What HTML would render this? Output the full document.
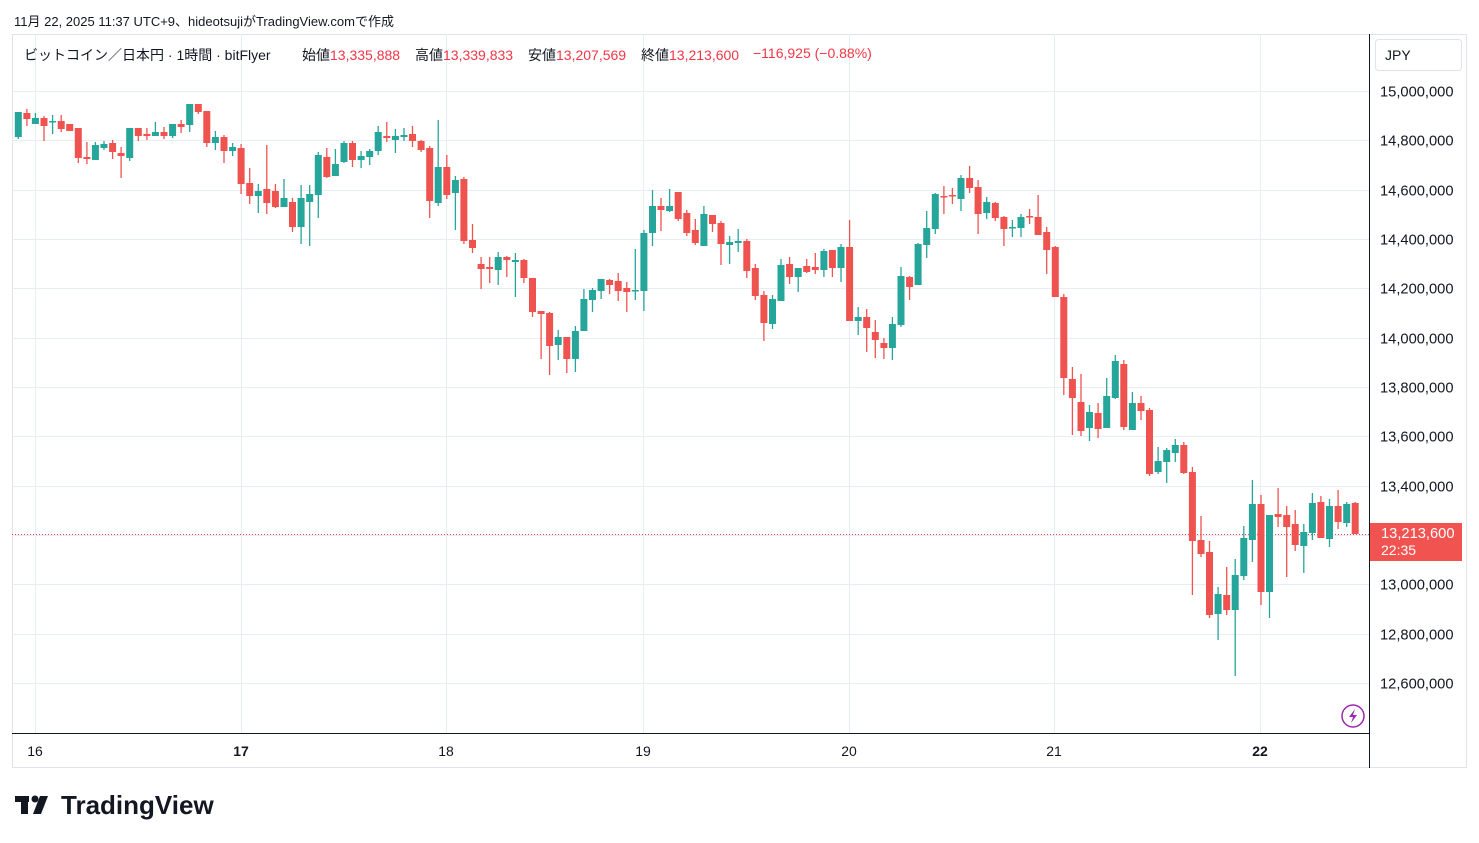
<!DOCTYPE html>
<html><head><meta charset="utf-8"><style>
body{margin:0;width:1479px;height:843px;background:#fff;font-family:"Liberation Sans","Noto Sans CJK JP",sans-serif;overflow:hidden;position:relative}
.t{position:absolute;white-space:nowrap}
.l{position:absolute;white-space:nowrap;top:45px;font-size:14px;color:#131722}
.r{color:#f23645}
</style></head><body>
<div class="t" style="left:14px;top:11px;font-size:13px;color:#131722">11月 22, 2025 11:37 UTC+9、hideotsujiがTradingView.comで作成</div>
<svg id="c" width="1479" height="843" style="position:absolute;left:0;top:0" xmlns="http://www.w3.org/2000/svg">
<rect x="12.5" y="34.5" width="1454" height="733" fill="none" stroke="#e0e3eb"/>
<g id="grid" stroke="#e8edf3" stroke-width="1"></g>
<line x1="1369.5" y1="34" x2="1369.5" y2="768" stroke="#131722"/>
<line x1="12" y1="733.5" x2="1369" y2="733.5" stroke="#131722"/>
<line x1="12" y1="534.5" x2="1369" y2="534.5" stroke="#f23645" stroke-dasharray="1,2"/>
<g id="cs"></g>
<rect x="1375.5" y="39.5" width="86" height="31" rx="3" fill="#fff" stroke="#e0e3eb"/>
<text x="1385" y="60" font-size="14" fill="#131722" font-family="Liberation Sans">JPY</text>
<g id="pl" font-size="14.7" fill="#131722" font-family="Liberation Sans"></g>
<rect x="1370" y="523" width="92" height="38" fill="#f05350"/>
<text x="1381" y="538" font-size="14.7" fill="#fff" font-family="Liberation Sans">13,213,600</text>
<text x="1381" y="555" font-size="14" fill="#fff" font-family="Liberation Sans">22:35</text>
<circle cx="1353" cy="716" r="11" fill="#fff" stroke="#9c27b0" stroke-width="1.5"/>
<path d="M1355 709 L1349 717 L1353 717 L1351 723 L1357 715 L1353 715 Z" fill="#9c27b0"/>
<g font-size="14" fill="#131722" font-family="Liberation Sans" text-anchor="middle">
<text x="35" y="756">16</text><text x="241" y="756" font-weight="bold">17</text><text x="446" y="756">18</text><text x="643" y="756">19</text><text x="849" y="756">20</text><text x="1054" y="756">21</text><text x="1260" y="756" font-weight="bold">22</text>
</g>
<g fill="#131722"><rect x="15" y="796" width="14" height="6"/><rect x="21" y="796" width="7" height="18"/><circle cx="35" cy="799" r="3.5"/><path d="M40 796 L48 796 L41 814 L33 814 Z"/></g>
<text x="61" y="814" font-size="26" font-weight="bold" fill="#131722" font-family="Liberation Sans">TradingView</text>
</svg>
<div class="l" style="left:24px">ビットコイン／日本円 · 1時間 · bitFlyer</div>
<div class="l" style="left:302px">始値<span class="r">13,335,888</span></div>
<div class="l" style="left:415px">高値<span class="r">13,339,833</span></div>
<div class="l" style="left:528px">安値<span class="r">13,207,569</span></div>
<div class="l" style="left:641px">終値<span class="r">13,213,600</span></div>
<div class="l r" style="left:753px">−116,925 (−0.88%)</div>
<script>
var ns="http://www.w3.org/2000/svg";
function el(p,n,a){var e=document.createElementNS(ns,n);for(var k in a)e.setAttribute(k,a[k]);p.appendChild(e);return e;}
var g=document.getElementById('grid'),pl=document.getElementById('pl');
var prices=["15,000,000","14,800,000","14,600,000","14,400,000","14,200,000","14,000,000","13,800,000","13,600,000","13,400,000","13,200,000","13,000,000","12,800,000","12,600,000"];
for(var i=0;i<13;i++){var y=Math.round(91+i*49.33)+0.5;el(g,'line',{x1:12,x2:1369,y1:y,y2:y});if(i!=9){var t=el(pl,'text',{x:1380,y:y+5});t.textContent=prices[i];}}
[35,241,446,643,849,1054,1260].forEach(function(x){el(g,'line',{x1:x+0.5,x2:x+0.5,y1:34,y2:733});});
var d=[[112,137,112,139,1],[113,119,109,126,0],[118,124,113,124,1],[118,126,116,141,0],[121,122,115,134,1],[121,129,115,132,0],[124,131,124,131,0],[128,158,128,163,0],[157,159,142,164,0],[145,160,142,160,1],
[144,148,141,150,1],[143,152,140,159,0],[153,156,147,178,0],[128,158,128,161,1],[128,136,128,141,0],[134,136,128,140,0],[132,136,122,136,1],[132,136,127,139,0],[124,136,124,138,1],[124,127,120,133,0],
[104,125,104,132,1],[104,112,104,114,0],[111,143,111,147,0],[137,143,131,150,1],[137,151,135,163,0],[147,151,143,156,1],[148,184,144,194,0],[183,196,168,204,0],[191,196,184,213,1],[189,203,145,214,0],
[191,207,184,208,0],[198,207,179,207,1],[202,227,198,232,0],[198,227,185,244,1],[194,202,185,246,1],[155,195,152,218,1],[157,177,148,178,0],[164,176,149,176,1],[143,162,141,163,1],[143,160,141,167,0],
[156,160,151,168,1],[151,157,149,165,1],[132,151,126,155,1],[136,138,122,142,0],[136,140,129,153,1],[135,137,128,141,1],[134,141,126,147,0],[141,150,140,152,0],[148,201,146,218,0],[167,203,120,206,1],
[167,195,155,199,0],[180,193,176,230,1],[179,241,177,244,0],[240,248,224,253,0],[264,269,257,289,0],[267,269,257,283,0],[257,270,252,285,1],[257,260,256,277,0],[260,262,253,297,1],[260,278,259,283,0],
[278,312,278,317,0],[311,314,311,359,0],[313,346,312,375,0],[337,345,330,360,1],[337,359,337,373,0],[331,359,326,372,1],[299,331,289,331,1],[290,300,288,312,1],[279,291,279,299,1],[280,285,279,294,0],
[281,291,273,301,0],[288,292,282,312,0],[290,291,249,300,1],[233,291,230,311,1],[206,233,190,246,1],[206,210,198,231,0],[206,211,189,212,1],[192,219,192,221,0],[213,233,210,236,0],[230,243,219,245,0],
[214,246,206,246,1],[215,224,215,232,0],[223,244,221,265,0],[242,245,236,264,1],[241,243,229,252,1],[241,271,239,278,0],[268,296,264,300,0],[295,323,291,341,0],[299,324,295,329,1],[265,301,259,301,1],
[264,277,257,284,0],[268,277,268,292,1],[266,272,259,273,0],[267,270,253,274,0],[251,270,249,277,1],[250,268,250,277,0],[247,268,244,282,1],[247,321,220,321,0],[317,321,307,335,1],[317,328,309,352,0],
[332,340,320,358,0],[343,348,338,359,0],[324,348,317,360,1],[276,325,267,327,1],[277,287,276,300,0],[244,285,243,285,1],[228,245,211,258,1],[194,229,193,234,1],[196,197,186,214,0],[195,196,188,204,0],
[178,199,175,211,1],[178,188,166,193,0],[187,214,180,234,0],[202,213,197,219,1],[203,218,202,221,0],[217,229,216,246,0],[227,228,220,237,1],[217,228,214,237,1],[216,217,209,224,0],[217,235,195,235,0],
[232,250,227,274,0],[247,297,246,297,0],[297,378,294,395,0],[379,398,367,435,0],[402,431,374,436,0],[412,428,405,441,1],[413,429,403,438,0],[396,428,378,428,1],[361,398,355,399,1],[364,427,360,430,0],
[403,430,392,430,1],[403,411,396,420,0],[410,474,408,476,0],[461,472,447,474,1],[450,462,448,483,1],[445,453,439,462,1],[445,473,442,474,0],[472,541,467,595,0],[540,554,516,557,0],[552,615,541,618,0],
[594,614,587,640,1],[595,610,567,615,0],[575,610,559,676,1],[538,576,526,580,1],[504,540,480,562,1],[504,592,495,605,0],[515,592,515,618,1],[514,517,488,527,0],[515,527,506,577,0],[524,545,510,551,0],
[532,546,524,573,1],[503,533,493,540,1],[502,538,496,538,0],[506,539,499,547,1],[506,522,490,529,0],[504,523,502,527,1],[503,534,502,534,0]];
var cs=document.getElementById('cs');
d.forEach(function(c,i){var x=18.3+i*8.57;var col=c[4]?'#26a69a':'#ef5350';
el(cs,'line',{x1:x.toFixed(1),x2:x.toFixed(1),y1:c[2],y2:c[3],stroke:col,'stroke-width':1.3});
el(cs,'rect',{x:(x-3.5).toFixed(1),y:c[0],width:7,height:Math.max(1.5,c[1]-c[0]),fill:col});});
</script>
</body></html>
